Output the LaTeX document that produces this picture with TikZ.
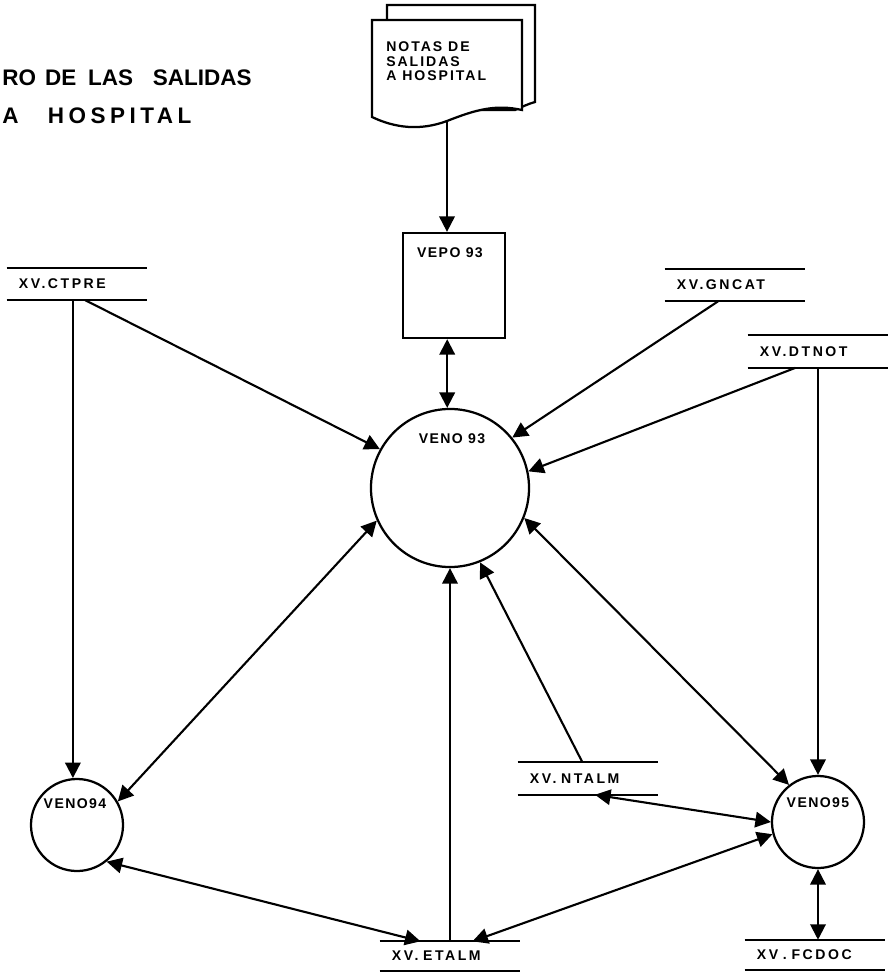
\documentclass[tikz,border=0pt]{standalone}
\usepackage{fontspec}
\setmainfont{Liberation Sans}
\newfontfamily\titlefont{Liberation Sans}
\newfontfamily\spacedfont[LetterSpace=20]{Liberation Sans}
\newfontfamily\storefont[LetterSpace=18]{Liberation Sans}
\newfontfamily\procfont[LetterSpace=10]{Liberation Sans}
\newfontfamily\notefont[LetterSpace=14]{Liberation Sans}
\usetikzlibrary{arrows.meta,calc}

\tikzset{
  procline/.style={line width=1.6pt},
  flow/.style={line width=1.5pt, -{Triangle[length=11pt,width=11pt]}},
  twoway/.style={line width=1.5pt, {Triangle[length=11pt,width=11pt]}-{Triangle[length=11pt,width=11pt]}},
  proclabel/.style={font=\procfont\bfseries\fontsize{10}{12}\selectfont, inner sep=0pt},
  store/.style={font=\storefont\bfseries\fontsize{10}{12}\selectfont, text width=2.9cm, align=left,
    inner xsep=0.3cm, inner ysep=0pt, minimum height=0.8cm},
  process/.style={circle, draw, procline, inner sep=0pt},
  titletext/.style={font=\titlefont\bfseries\fontsize{16}{19}\selectfont, inner sep=0pt, anchor=base west}
}

\begin{document}
\begin{tikzpicture}[x=0.025cm, y=-0.025cm]
\useasboundingbox (0,0) rectangle (893,974);

% Title
\node[titletext] (title1) at (2,85) {RO\hspace{0.4em}DE\hspace{0.53em}LAS\hspace{0.88em}SALIDAS};
\node[titletext, font=\spacedfont\bfseries\fontsize{16}{19}\selectfont] (title2) at (2,123) {A\hspace{1.3em}HOSPITAL};

% Document
\draw[procline, fill=white] (387,5) -- (535,5) -- (535,102) .. controls (528,104) and (524,106) .. (515,110) -- (387,110) -- cycle;
\draw[procline, fill=white] (372,20) -- (522,20) -- (522,110) .. controls (495,104) and (475,110) .. (447,121)
  .. controls (420,131) and (395,128) .. (372,117) -- cycle;
\node[font=\notefont\bfseries\fontsize{10}{10.6}\selectfont, align=left, inner sep=0pt, anchor=north west] (notas) at (386,41) {NOTAS DE\\SALIDAS\\A HOSPITAL};
\coordinate (docbottom) at (447,121);

% Processes
\node[draw, procline, minimum width=2.55cm, minimum height=2.625cm] (vepo) at (454,285.5) {};
\node[proclabel] (vepo-lbl) at (450,252.5) {VEPO 93};
\node[process, minimum size=3.95cm] (veno93) at (450,488) {};
\node[proclabel] (veno93-lbl) at (452,438.5) {VENO 93};
\node[process, minimum size=2.3cm] (veno94) at (77,825) {};
\node[proclabel] (veno94-lbl) at (75,803.5) {VENO94};
\node[process, minimum size=2.3cm] (veno95) at (818,822) {};
\node[proclabel] (veno95-lbl) at (818,802.5) {VENO95};

% Stores
\node[store] (ctpre) at (77,284) {XV.CTPRE};
\node[store] (gncat) at (735,285) {XV.GNCAT};
\node[store] (dtnot) at (818,351.5) {XV.DTNOT};
\node[store] (ntalm) at (588,778.5) {XV. NTALM};
\node[store, minimum height=0.72cm] (etalm) at (450,956) {XV. ETALM};
\node[store, minimum height=0.75cm] (fcdoc) at (815,955) {XV . FCDOC};
\foreach \s in {ctpre,gncat,dtnot,ntalm,etalm,fcdoc}
  \draw[procline] (\s.north west) -- (\s.north east) (\s.south west) -- (\s.south east);

% Flows
\draw[flow] (docbottom) -- (docbottom |- vepo.north);
\draw[twoway] (veno93.92 |- vepo.south) -- (veno93.92);
\draw[flow] (ctpre.south -| veno94.95) -- (veno94.95);
\draw[flow] ($(ctpre.south west)!0.56!(ctpre.south east)$) -- (veno93.151);
\draw[flow] ($(gncat.south west)!0.38!(gncat.south east)$) -- (veno93.39);
\draw[flow] ($(dtnot.south west)!0.34!(dtnot.south east)$) -- (veno93.12);
\draw[flow] (dtnot.south -| veno95.north) -- (veno95.north);
\draw[twoway] (veno93.204) -- (veno94.30);
\draw[twoway] (veno93.338) -- (veno95.128);
\draw[flow] (etalm.north -| veno93.south) -- (veno93.south);
\draw[flow] ($(ntalm.north west)!0.46!(ntalm.north east)$) -- (veno93.292);
\draw[twoway] (veno95.180) -- ($(ntalm.south west)!0.55!(ntalm.south east)$);
\draw[twoway] (veno94.309) -- ($(etalm.north west)!0.29!(etalm.north east)$);
\draw[twoway] ($(etalm.north west)!0.66!(etalm.north east)$) -- (veno95.195);
\draw[twoway] (veno95.south) -- (veno95.south |- fcdoc.north);
\end{tikzpicture}
\end{document}
